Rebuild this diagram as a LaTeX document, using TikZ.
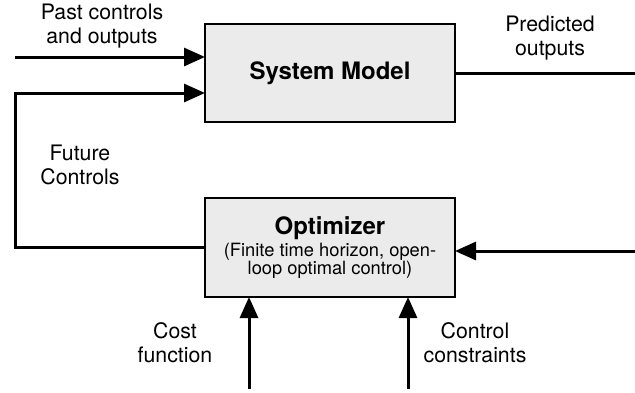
\documentclass[tikz,border=0pt]{standalone}
\usepackage{fontspec}
\setmainfont{TeX Gyre Heros}
\usepackage{tikz}
\usetikzlibrary{arrows.meta}
\definecolor{boxgray}{HTML}{EBEBEB}

\begin{document}
\begin{tikzpicture}[x=1pt,y=-1pt,
    blk/.style={draw, fill=boxgray, line width=1.3pt, minimum width=250pt, inner sep=0pt, outer sep=0pt, align=center},
    arr/.style={line width=3pt, -{Triangle[length=21pt,width=18pt]}},
    wire/.style={line width=3pt},
    lbl/.style={align=center, font=\fontsize{21.3}{24}\selectfont}]
    \useasboundingbox (0,0) rectangle (635,392);
    % blocks
    \node[blk, minimum height=98pt] (sys) at (330,73)
        {\fontsize{24}{26}\selectfont\bfseries System Model};
    \node[blk, minimum height=99pt] (opt) at (330,247.5)
        {{\fontsize{24}{26}\selectfont\bfseries Optimizer}\\[2pt]
         \fontsize{18.3}{21}\selectfont (Finite time horizon, open-\\
         \fontsize{18.3}{21}\selectfont loop optimal control)};
    % free ends
    \coordinate (pin) at (15,57);
    \coordinate (fbin) at (15,93);
    \coordinate (pout) at (635,73);
    \coordinate (rin) at (635,251);
    \coordinate (cin) at (249,389);
    \coordinate (kin) at (408,389);
    % connectors
    \draw[arr] (pin) -- (pin -| sys.west);
    \draw[wire] (sys.east) -- (pout);
    \draw[arr] (opt.west) -| (fbin) -- (fbin -| sys.west);
    \draw[arr] (rin) -- (rin -| opt.east);
    \draw[arr] (cin) -- (cin |- opt.south);
    \draw[arr] (kin) -- (kin |- opt.south);
    % labels
    \node[lbl] (lpast) at (102,26) {Past controls\\and outputs};
    \node[lbl] (lpred) at (550,38) {Predicted\\outputs};
    \node[lbl] (lfut) at (80,165) {Future\\Controls};
    \node[lbl] (lcost) at (175,343) {Cost\\function};
    \node[lbl] (lcons) at (475,343) {Control\\constraints};
\end{tikzpicture}
\end{document}
